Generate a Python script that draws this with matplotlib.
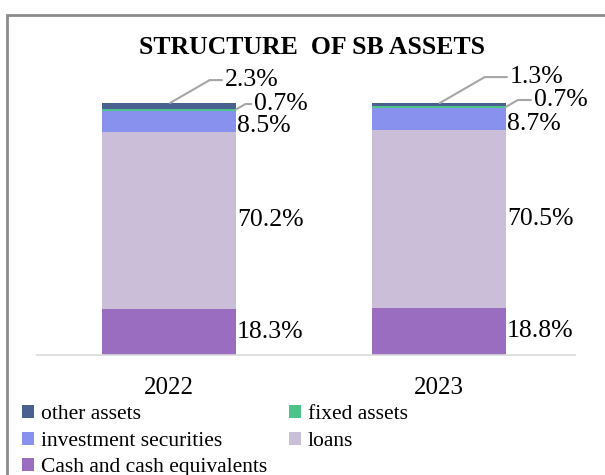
import matplotlib
matplotlib.use("Agg")
import matplotlib.pyplot as plt
from matplotlib.patches import Rectangle
import numpy as np

years = ["2022", "2023"]
cash = [18.3, 18.8]
loans = [70.2, 70.5]
invest = [8.5, 8.7]
fixed = [0.7, 0.7]
other = [2.3, 1.3]

series_names = ["Cash and cash equivalents", "loans", "investment securities",
                "fixed assets", "other assets"]
series_vals = [cash, loans, invest, fixed, other]
colors = ["#9b6dc0", "#cbbed8", "#8891ee", "#4cc38a", "#4a6090"]

plt.rcParams['font.family'] = ['Liberation Serif', 'DejaVu Serif']

fig = plt.figure(figsize=(6.05, 4.75), dpi=100)
ax = fig.add_axes([0.061, 0.2526, 0.889, 0.5305])

x = np.arange(len(years))
w = 0.496
bottom = np.zeros(len(years))
bars = {}
for name, vals, c in zip(series_names, series_vals, colors):
    bars[name] = ax.bar(x, vals, w, bottom=bottom, color=c, label=name)
    bottom = bottom + np.array(vals)

ax.set_xlim(-0.489, 1.504)
ax.set_ylim(0, 100)
ax.set_yticks([])
for s in ["top", "left", "right"]:
    ax.spines[s].set_visible(False)
ax.spines["bottom"].set_color("#d9d9d9")
ax.spines["bottom"].set_linewidth(1.2)
ax.set_xticks(x)
ax.set_xticklabels(years, fontsize=18)
ax.tick_params(axis="x", length=0, pad=16)

# labels inside-right of the bars
fs = 18.5
for i in range(len(years)):
    xr = x[i] + w / 2 + 0.005
    ax.text(xr, cash[i] / 2, f"{cash[i]}%", ha="left", va="center", fontsize=fs)
    ax.text(xr, cash[i] + loans[i] / 2, f"{loans[i]}%", ha="left", va="center", fontsize=fs)
    ax.text(xr, cash[i] + loans[i] + invest[i] / 2 - 2, f"{invest[i]}%",
            ha="left", va="center", fontsize=fs)

# callouts with leader lines
lc = "#a6a6a6"
callouts = [
    # (value, anchor xy, text xy)
    (other[0], (0.004, 100), (0.207, 109.1)),
    (fixed[0], (0.248, 97.4), (0.315, 99.6)),
    (other[1], (1.004, 100), (1.263, 110.3)),
    (fixed[1], (1.248, 98.4), (1.352, 101.2)),
]
for v, xy, xyt in callouts:
    ax.annotate(f"{v}%", xy=xy, xytext=xyt, ha="left", va="center", fontsize=fs,
                annotation_clip=False,
                arrowprops=dict(arrowstyle="-", color=lc, lw=1.5,
                                shrinkA=0, shrinkB=0,
                                connectionstyle="angle,angleA=0,angleB=30,rad=0"))

fig.text(0.516, 0.9, "STRUCTURE  OF SB ASSETS", ha="center", va="center",
         fontsize=18.5, fontweight="bold")

# legend, row-major order
order = ["other assets", "investment securities", "Cash and cash equivalents",
         "fixed assets", "loans"]
handles = [bars[n] for n in order]
fig.legend(handles, order, ncol=2, loc="upper left", bbox_to_anchor=(0.019, 0.17),
           frameon=False, fontsize=15.5, handlelength=0.55, handleheight=0.55,
           handletextpad=0.3, columnspacing=1.05, labelspacing=0.35, borderpad=0)

# outer frame of the chart area
fig.patches.append(Rectangle((0.0116, -0.2), 1.2, 0.968 + 0.2, transform=fig.transFigure,
                             fill=False, edgecolor="#8c8c8c", lw=2))

fig.savefig("out.png", dpi=100)
